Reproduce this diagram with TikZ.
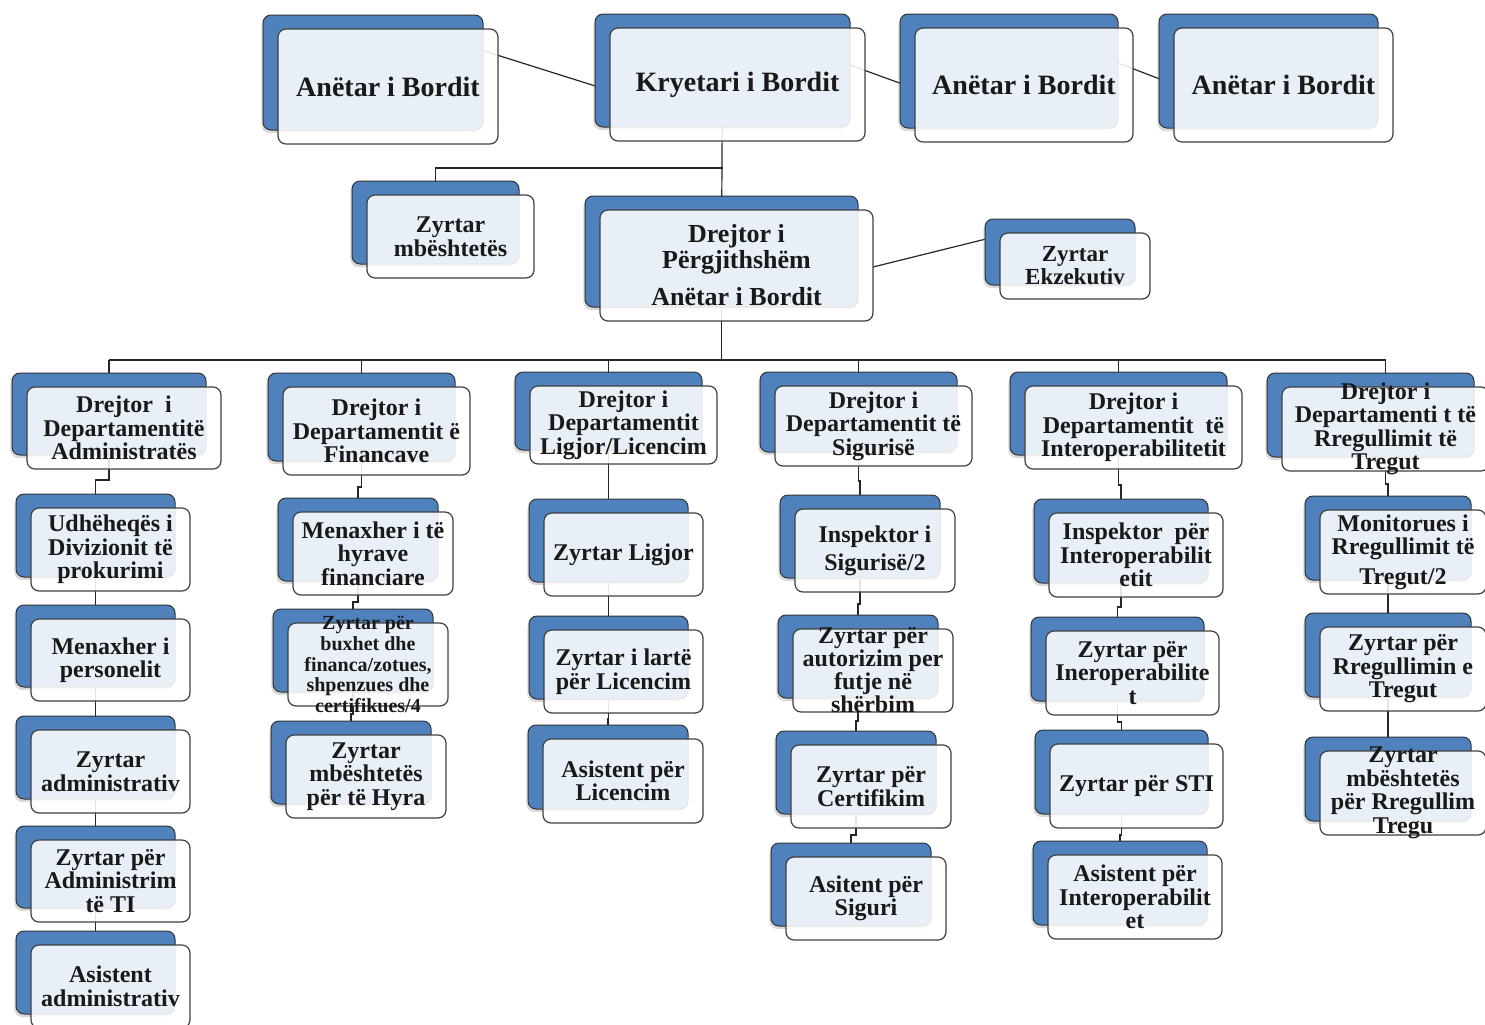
\documentclass[tikz,border=0pt]{standalone}
\usepackage{fontspec}
\setmainfont{Liberation Serif}
\usetikzlibrary{shadows,backgrounds}
\definecolor{boxblue}{HTML}{4F81BD}
\tikzset{
 backbox/.style={draw=black!80, line width=0.5pt, fill=boxblue, rounded corners=4pt, inner sep=0pt,
   drop shadow={shadow xshift=-0.8pt, shadow yshift=-1.5pt, opacity=0.3}},
 frontbox/.style={draw=black!75, line width=0.6pt, fill=white, fill opacity=0.875, rounded corners=4pt, inner sep=0pt},
 boxtext/.style={align=center, inner sep=0pt, text=black!90},
 conn/.style={draw=black!85, line width=0.6pt},
}
\newcommand\obox[8]{%
 \node[backbox, minimum width=#4*0.5pt, minimum height=#5*0.5pt] (#1) at (#2,#3) {};
 \node[frontbox, minimum width=#4*0.5pt, minimum height=#5*0.5pt] (#1f) at ([shift={(15,14)}]#1.center) {};
 \node[boxtext, font=\fontsize{#6}{#7}\selectfont\bfseries] (#1t) at (#1f.center) {#8};
}
\newcommand\link[3]{\draw[conn] (#1.center) -- (#1 |- 0,#3) -- (#2 |- 0,#3) -- (#2.center);}
\begin{document}
\begin{tikzpicture}[x=0.5pt,y=-0.5pt]
\useasboundingbox (0,0) rectangle (1485,1024);
\clip (0,0) rectangle (1485,1024);
% top row
\obox{t1}{373}{72.5}{220}{115}{14}{16}{Anëtar i Bordit}
\obox{t2}{722.5}{70.5}{255}{113}{14}{16}{Kryetari i Bordit}
\obox{t3}{1009}{71}{218}{114}{14}{16}{Anëtar i Bordit}
\obox{t4}{1268.5}{71}{219}{114}{14}{16}{Anëtar i Bordit}
% second level
\obox{zm}{435.5}{222.5}{167}{83}{12}{12}{Zyrtar\\mbështetës}
\obox{dp}{721.5}{251.5}{273}{111}{13}{13}{Drejtor i\\Përgjithshëm\\[5.5pt]Anëtar i Bordit}
\obox{ze}{1060}{252}{150}{66}{11.5}{11.5}{Zyrtar\\Ekzekutiv}
% departments
\obox{dA}{109}{414}{194}{82}{12}{11.75}{Drejtor\ \ i\\Departamentitë\\Administratës}
\obox{dB}{361.5}{417}{187}{88}{12}{11.75}{Drejtor i\\Departamentit ë\\Financave}
\obox{dC}{608.5}{411}{187}{78}{12}{11.75}{Drejtor i\\Departamentit\\Ligjor/Licencim}
\obox{dD}{858.5}{412}{197}{80}{12}{11.75}{Drejtor i\\Departamentit të\\Sigurisë}
\obox{dE}{1118.5}{413.5}{217}{83}{12}{11.75}{Drejtor i\\Departamentit\ \ të\\Interoperabilitetit}
\obox{dF}{1370.5}{415}{207}{84}{12}{11.75}{Drejtor i\\Departamenti t të\\Rregullimit të\\Tregut}
% column A
\obox{a1}{95.5}{535.5}{159}{83}{12}{11.75}{Udhëheqës i\\Divizionit të\\prokurimi}
\obox{a2}{95.5}{646}{159}{82}{12}{11.75}{Menaxher i\\personelit}
\obox{a3}{95.5}{757.5}{159}{83}{12}{11.75}{Zyrtar\\administrativ}
\obox{a4}{95.5}{867}{159}{82}{12}{11.75}{Zyrtar për\\Administrim\\të TI}
\obox{a5}{95.5}{972.5}{159}{83}{12}{11.75}{Asistent\\administrativ}
% column B
\obox{b1}{358}{539.5}{160}{83}{12}{11.75}{Menaxher i të\\hyrave\\financiare}
\obox{b2}{353}{650.5}{160}{83}{10}{10.4}{Zyrtar për\\buxhet dhe\\financa/zotues,\\shpenzues dhe\\certifikues/4}
\obox{b3}{351}{762.5}{160}{83}{12}{11.75}{Zyrtar\\mbështetës\\për të Hyra}
% column C
\obox{c1}{608.5}{540.5}{159}{83}{12}{11.75}{Zyrtar Ligjor}
\obox{c2}{608.5}{657.5}{159}{83}{12}{11.75}{Zyrtar i lartë\\për Licencim}
\obox{c3}{608}{767}{160}{84}{12}{11.75}{Asistent për\\Licencim}
% column D
\obox{d1}{860}{536.5}{160}{83}{12}{11.75}{Inspektor i\\[2.25pt]Sigurisë/2}
\obox{d2}{858}{656.5}{160}{83}{12}{11.5}{Zyrtar për\\autorizim per\\futje në\\shërbim}
\obox{d3}{856}{772.5}{160}{83}{12}{11.75}{Zyrtar për\\Certifikim}
\obox{d4}{851}{884.5}{160}{83}{12}{11.75}{Asitent për\\Siguri}
% column E
\obox{e1}{1121}{541}{174}{84}{12}{11.75}{Inspektor\ \ për\\Interoperabilit\\etit}
\obox{e2}{1117.5}{659}{173}{84}{12}{11.75}{Zyrtar për\\Ineroperabilite\\t}
\obox{e3}{1121.5}{772}{173}{84}{12}{11.75}{Zyrtar për STI}
\obox{e4}{1120}{883}{174}{84}{12}{11.75}{Asistent për\\Interoperabilit\\et}
% column F
\obox{f1}{1388}{538}{166}{84}{12}{11.75}{Monitorues i\\Rregullimit të\\[3pt]Tregut/2}
\obox{f2}{1388}{655}{166}{84}{12}{11.75}{Zyrtar për\\Rregullimin e\\Tregut}
\obox{f3}{1388}{779}{166}{84}{12}{11.75}{Zyrtar\\mbështetës\\për Rregullim\\Tregu}
% connectors
\begin{scope}[on background layer]
 \coordinate (k1) at (470,46.5);  \coordinate (k2) at (600,87.5);
 \coordinate (k3) at (850,65);   \coordinate (k4) at (905,85);
 \coordinate (k5) at (1118,63);  \coordinate (k6) at (1165,81);
 \coordinate (k7) at (873,267);  \coordinate (k8) at (990,238);
 \draw[conn] (k1) -- (k2);
 \draw[conn] (k3) -- (k4);
 \draw[conn] (k5) -- (k6);
 \draw[conn] (k7) -- (k8);
 \draw[conn] (t2.center) -- (dp.center);
 \draw[conn] (t2 |- 0,168) -- (zm |- 0,168) -- (zm.center);
 \draw[conn] (dp.center) -- (dp |- 0,360);
 \draw[conn] (dA |- 0,360) -- (dFf |- 0,360);
 \foreach \n in {dA,dB,dC,dD,dE} {\draw[conn] (\n |- 0,360) -- (\n.center);}
 \draw[conn] (dFf |- 0,360) -- (dFf.center);
 \link{dA}{a1}{480}
 \link{a1}{a2}{598}
 \link{a2}{a3}{708}
 \link{a3}{a4}{818}
 \link{a4}{a5}{925}
 \link{dB}{b1}{487}
 \link{b1}{b2}{602}
 \link{b2}{b3}{714}
 \link{dC}{c1}{482}
 \link{c1}{c2}{606}
 \link{c2}{c3}{719}
 \link{dD}{d1}{481}
 \link{d1}{d2}{604}
 \link{d2}{d3}{721}
 \link{d3}{d4}{835}
 \link{dE}{e1}{485}
 \link{e1}{e2}{607}
 \link{e2}{e3}{722}
 \link{e3}{e4}{835}
 \draw[conn] (dFf.center) -- (dFf |- 0,484) -- (f1 |- 0,484) -- (f1.center);
 \link{f1}{f2}{604}
 \link{f2}{f3}{724}
\end{scope}
\end{tikzpicture}
\end{document}
